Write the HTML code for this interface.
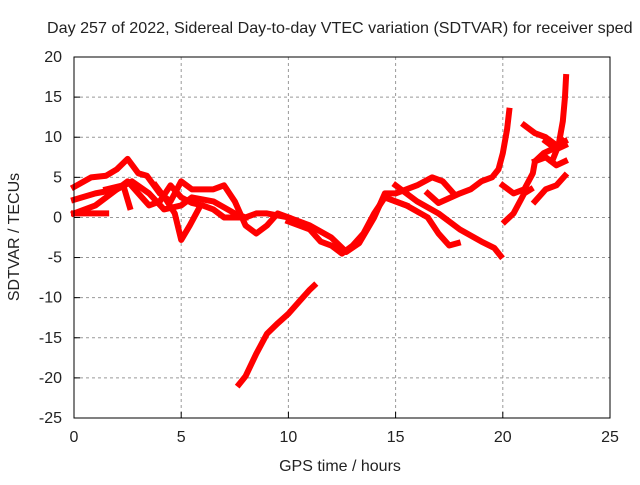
<!DOCTYPE html>
<html><head><meta charset="utf-8"><style>
body{margin:0;background:#fff;width:640px;height:480px;overflow:hidden}
text{font-family:"Liberation Sans",sans-serif;font-size:16px;fill:#222}
</style></head><body>
<svg id="chart" width="640" height="480" xmlns="http://www.w3.org/2000/svg">
<text x="47" y="33" style="font-size:16.1px">Day 257 of 2022, Sidereal Day-to-day VTEC variation (SDTVAR) for receiver sped</text>
<g id="grid"></g>
<g id="series"></g>
<rect x="74" y="57" width="536" height="361" fill="none" stroke="#000" stroke-width="1"/>
<g id="ticks"></g>
<text x="340" y="471" text-anchor="middle">GPS time / hours</text>
<text transform="translate(19,237) rotate(-90)" text-anchor="middle">SDTVAR / TECUs</text>
</svg>
<script>
const xTicks=[0,5,10,15,20,25];
const yTicks=[20,15,10,5,0,-5,-10,-15,-20,-25];
const trackA=[[0,3.8],[0.8,5],[1.5,5.2],[2,6],[2.5,7.3],[3,5.5],[3.4,5.2],[4,3],[4.5,2],[5,4.5],[5.5,3.5],[6,3.5],[6.5,3.5],[7,4],[7.5,2],[8,-1],[8.5,-2],[9,-1],[9.5,0.5],[10,0]];
const trackB=[[0,2.2],[1,3],[2,3.5],[2.7,4.5],[3.5,3],[4.2,1],[5,1.5],[5.5,2.5],[6.5,2],[7.5,0.5],[8,0],[8.5,0.5],[9,0.5],[10,0],[11,-1],[12,-2.5],[12.7,-4.3],[13.3,-3.2],[14,0],[14.5,3],[15,3],[16,4],[16.7,5],[17.2,4.5],[17.7,3]];
const trackC=[[0,0.5],[1,0.5],[1.5,0.5]];
const trackD=[[0,0.5],[1,1.5],[2,3.5],[2.5,4.5],[3,3],[3.5,1.5],[4,2],[4.5,4],[5,2.5],[5.5,1.8],[6,1.5],[6.5,1],[7,0],[8,0]];
const trackE=[[1.5,3.5],[2.3,4],[2.6,1.3]];
const trackF=[[3.8,4],[4.3,2.2],[4.7,0.5],[5,-2.8],[5.4,-1],[5.8,1]];
const trackG=[[10,-0.5],[11,-1.5],[11.5,-3],[12,-3.5],[12.5,-4.5],[13,-3.5],[13.5,-2],[14,0.5],[14.5,2.5],[15,2],[15.5,1.5]];
const trackH=[[14.5,2.5],[15.5,1.5],[16.5,0],[17,-2],[17.5,-3.5],[17.9,-3.2]];
const trackI=[[15,4],[16,2],[17,0.5],[18,-1.5],[19,-3],[19.6,-3.8],[19.9,-4.8]];
const trackJ=[[16.5,3],[17,1.8],[18,3],[18.5,3.5],[19,4.5],[19.5,5],[19.8,6],[20,8],[20.2,11],[20.3,13.3]];
const trackK=[[20,4],[20.5,3],[21,3.5],[21.4,5.5],[21.5,7],[21.9,8],[22.3,8.5],[22.8,9.5]];
const trackL=[[20.1,-0.5],[20.5,0.5],[21,3],[21.3,3.5]];
const trackM=[[21.5,2],[22,3.5],[22.5,4],[22.9,5.2]];
const trackN=[[22.3,7],[22.6,9],[22.8,12],[22.9,15],[22.95,17.5]];
const trackO=[[21,11.5],[21.5,10.5],[22,10],[22.5,9],[22.9,9.5]];
const trackP=[[21.5,7],[22,7.5],[22.5,6.5],[22.9,7]];
const trackQ=[[22,9.5],[22.5,8.5],[22.9,9]];
const trackR=[[7.7,-20.8],[8,-19.8],[8.5,-17],[9,-14.5],[9.5,-13.2],[10,-12],[10.5,-10.5],[11,-9],[11.2,-8.5]];
const tracks=[trackA,trackB,trackC,trackD,trackE,trackF,trackG,trackH,trackI,trackJ,trackK,trackL,trackM,trackN,trackO,trackP,trackQ,trackR];
const X0=74,X1=610,Y0=418,Y1=57;
const sx=t=>X0+(t-0)/(25-0)*(X1-X0);
const sy=v=>Y0-(v+25)/(45)*(Y0-Y1);
const NS="http://www.w3.org/2000/svg";
const grid=document.getElementById('grid'),ticks=document.getElementById('ticks'),ser=document.getElementById('series');
function mk(tag,attrs,parent){const e=document.createElementNS(NS,tag);for(const k in attrs)e.setAttribute(k,attrs[k]);parent.appendChild(e);return e;}
xTicks.forEach(t=>{
 const x=sx(t);
 if(t>0&&t<25){const g=mk('line',{x1:x,x2:x,y1:Y1,y2:Y0,stroke:'#999','stroke-dasharray':'3,3'},grid);
 
 }
 const tk=mk('line',{x1:x,x2:x,y1:Y0,y2:Y0-6,stroke:'#000'},ticks);
 
 
 const tx=mk('text',{x:x,y:Y0+24,'text-anchor':'middle'},ticks);tx.textContent=t;
 
 
});
yTicks.forEach(v=>{
 const y=sy(v);
 if(v>-25&&v<20){const g=mk('line',{x1:X0,x2:X1,y1:y,y2:y,stroke:'#999','stroke-dasharray':'3,3'},grid);
 
 }
 const tk=mk('line',{x1:X0,x2:X0+6,y1:y,y2:y,stroke:'#000'},ticks);
 
 
 const tx=mk('text',{x:X0-12,y:y+5,'text-anchor':'end'},ticks);tx.textContent=v;
 
 
});
tracks.forEach(tr=>{
 const pl=mk('polyline',{points:tr.map(p=>sx(p[0])+','+sy(p[1])).join(' '),fill:'none',stroke:'#f00','stroke-width':6,'stroke-linejoin':'round','stroke-linecap':'square'},ser);
 
 
});
</script>
</body></html>
